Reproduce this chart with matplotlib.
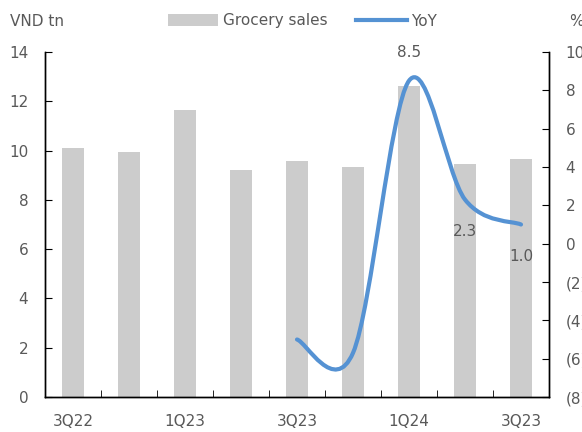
import numpy as np
import matplotlib
matplotlib.use('Agg')
import matplotlib.pyplot as plt
from matplotlib.path import Path
from matplotlib.patches import PathPatch, Patch
from matplotlib.lines import Line2D
import matplotlib.ticker as ticker

# data
quarters = ["3Q22", "4Q22", "1Q23", "2Q23", "3Q23", "4Q23", "1Q24", "2Q24", "3Q24"]
tick_labels = ["3Q22", "1Q23", "3Q23", "1Q24", "3Q23"]
grocery_sales = [10.1, 9.93, 11.65, 9.2, 9.58, 9.33, 12.63, 9.45, 9.66]
yoy_idx = [4, 5, 6, 7, 8]
yoy = [-5.0, -5.7, 8.5, 2.3, 1.0]
yoy_labels = {6: "8.5", 7: "2.3", 8: "1.0"}

TEXT = "#595959"
BAR = "#cccccc"
LINE = "#5592d3"

plt.rcParams['font.family'] = ['DejaVu Sans']
plt.rcParams['font.size'] = 11

fig = plt.figure(figsize=(5.82, 4.32), dpi=100)
ax = fig.add_axes([45 / 582, 1 - 397 / 432, 504 / 582, 345 / 432])
ax2 = ax.twinx()

x = np.arange(len(quarters))
ax.bar(x, grocery_sales, width=0.4, color=BAR, zorder=1)

# smoothed line like excel (catmull-rom bezier)
px = [float(i) for i in yoy_idx]
py = list(yoy)
verts = [(px[0], py[0])]
codes = [Path.MOVETO]
n = len(px)
for i in range(n - 1):
    p0 = (px[max(i - 1, 0)], py[max(i - 1, 0)])
    p1 = (px[i], py[i])
    p2 = (px[i + 1], py[i + 1])
    p3 = (px[min(i + 2, n - 1)], py[min(i + 2, n - 1)])
    c1 = (p1[0] + (p2[0] - p0[0]) / 6, p1[1] + (p2[1] - p0[1]) / 6)
    c2 = (p2[0] - (p3[0] - p1[0]) / 6, p2[1] - (p3[1] - p1[1]) / 6)
    verts += [c1, c2, p2]
    codes += [Path.CURVE4] * 3
ax2.add_patch(PathPatch(Path(verts, codes), facecolor='none', edgecolor=LINE,
                        lw=3, capstyle='round', joinstyle='round', zorder=3))

for i, v in zip(yoy_idx, yoy):
    if i in yoy_labels:
        off = 20 if i == 6 else -23
        ax2.annotate(yoy_labels[i], (i, v), xytext=(0, off), textcoords='offset points',
                     ha='center', va='center', color=TEXT, fontsize=11)

ax.set_xlim(-0.5, len(quarters) - 0.5)
ax.set_ylim(0, 14)
ax.yaxis.set_major_locator(ticker.MultipleLocator(2))
ax2.set_ylim(-8, 10)
ax2.yaxis.set_major_locator(ticker.MultipleLocator(2))
ax2.yaxis.set_major_formatter(ticker.FuncFormatter(
    lambda v, p: f"({abs(v):.0f})" if v < 0 else f"{v:.0f}"))

ax.set_xticks(x[::2])
ax.set_xticklabels(tick_labels)
ax.set_xticks(np.arange(0.5, len(quarters) - 0.5), minor=True)
ax.tick_params(axis='x', which='major', length=0, pad=12, colors=TEXT)
ax.tick_params(axis='x', which='minor', direction='in', length=5, color='black')
ax.tick_params(axis='y', direction='in', length=5, pad=12, colors=TEXT, color='black')
ax2.tick_params(axis='y', direction='in', length=5, pad=12, colors=TEXT, color='black')

for a in (ax, ax2):
    a.spines['top'].set_visible(False)
    for s in ('left', 'right', 'bottom'):
        a.spines[s].set_color('black')
        a.spines[s].set_linewidth(1)

fig.text(10 / 582, 1 - 21 / 432, "VND tn", color=TEXT, fontsize=11, va='center', ha='left')
fig.text(569 / 582, 1 - 21 / 432, "%", color=TEXT, fontsize=11, va='center', ha='left')

handles = [Patch(facecolor=BAR, edgecolor='none'), Line2D([], [], color=LINE, lw=3)]
fig.legend(handles, ["Grocery sales", "YoY"], loc='center left',
           bbox_to_anchor=(160 / 582, 1 - 21 / 432), ncol=2, frameon=False,
           handlelength=3.3, handleheight=0.8, handletextpad=0.3, columnspacing=1.9,
           labelcolor=TEXT, fontsize=11, borderpad=0)

fig.savefig("out.png", dpi=100)
